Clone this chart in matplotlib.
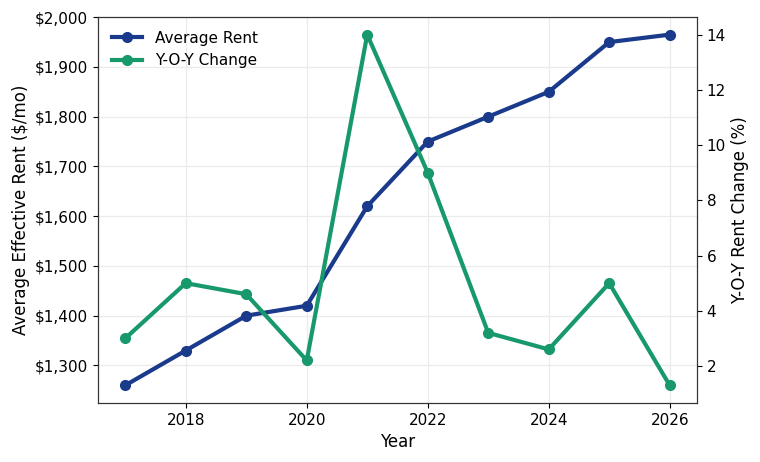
import matplotlib
matplotlib.use("Agg")
import matplotlib.pyplot as plt
from matplotlib.ticker import FuncFormatter

years = [2017, 2018, 2019, 2020, 2021, 2022, 2023, 2024, 2025, 2026]
avg_rent = [1260, 1330, 1400, 1420, 1620, 1750, 1800, 1850, 1950, 1965]
yoy_change = [3.0, 5.0, 4.6, 2.2, 14.0, 9.0, 3.2, 2.6, 5.0, 1.3]

blue = "#1a3a8c"
green = "#17996b"

plt.rcParams['font.family'] = ['DejaVu Sans']
plt.rcParams['font.size'] = 11

fig, ax = plt.subplots(figsize=(7.6, 4.62), dpi=100)
fig.subplots_adjust(left=0.129, right=0.917, top=0.963, bottom=0.128)

l1, = ax.plot(years, avg_rent, color=blue, lw=3, marker='o', ms=7, label='Average Rent')
ax2 = ax.twinx()
l2, = ax2.plot(years, yoy_change, color=green, lw=3, marker='o', ms=7, label='Y-O-Y Change')

ax.yaxis.set_major_formatter(FuncFormatter(lambda v, p: f"${v:,.0f}"))
ax.set_xlabel("Year", fontsize=12)
ax.set_ylabel("Average Effective Rent ($/mo)", fontsize=12)
ax2.set_ylabel("Y-O-Y Rent Change (%)", fontsize=12)
ax.grid(True, color='#ebebeb', lw=0.9)
ax.set_axisbelow(True)
for a in (ax, ax2):
    for s in a.spines.values():
        s.set_color('#333333')

ax.legend([l1, l2], ['Average Rent', 'Y-O-Y Change'], loc='upper left', frameon=False)

fig.savefig("out.png", dpi=100)
